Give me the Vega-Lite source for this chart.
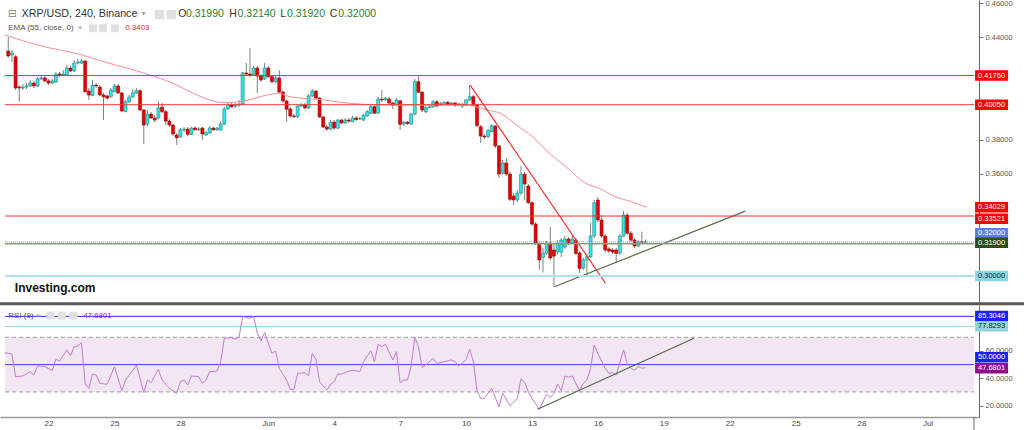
{
"$schema": "https://vega.github.io/schema/vega-lite/v6.json",
"background": "white",
"width": 1024,
"height": 430,
"autosize": {"type": "none"},
"padding": 0,
"config": {"view": {"stroke": null}, "font": "Liberation Sans", "axis": {"labelFont": "Liberation Sans", "grid": false, "zindex": 0}},
"datasets": {
"candles": [
{"t":"2018-05-20T04:00Z","o":0.4320,"h":0.4402,"l":0.4279,"c":0.4291},
{"t":"2018-05-20T08:00Z","o":0.4296,"h":0.4326,"l":0.4255,"c":0.4308},
{"t":"2018-05-20T12:00Z","o":0.4286,"h":0.4296,"l":0.4091,"c":0.4103},
{"t":"2018-05-20T16:00Z","o":0.4109,"h":0.4120,"l":0.4022,"c":0.4103},
{"t":"2018-05-20T20:00Z","o":0.4103,"h":0.4126,"l":0.4091,"c":0.4109},
{"t":"2018-05-21T00:00Z","o":0.4109,"h":0.4132,"l":0.4097,"c":0.4115},
{"t":"2018-05-21T04:00Z","o":0.4115,"h":0.4150,"l":0.4109,"c":0.4132},
{"t":"2018-05-21T08:00Z","o":0.4132,"h":0.4144,"l":0.4103,"c":0.4115},
{"t":"2018-05-21T12:00Z","o":0.4115,"h":0.4167,"l":0.4109,"c":0.4156},
{"t":"2018-05-21T16:00Z","o":0.4156,"h":0.4179,"l":0.4150,"c":0.4162},
{"t":"2018-05-21T20:00Z","o":0.4162,"h":0.4173,"l":0.4138,"c":0.4144},
{"t":"2018-05-22T00:00Z","o":0.4144,"h":0.4156,"l":0.4120,"c":0.4132},
{"t":"2018-05-22T04:00Z","o":0.4132,"h":0.4156,"l":0.4126,"c":0.4144},
{"t":"2018-05-22T08:00Z","o":0.4138,"h":0.4197,"l":0.4132,"c":0.4185},
{"t":"2018-05-22T12:00Z","o":0.4185,"h":0.4197,"l":0.4167,"c":0.4179},
{"t":"2018-05-22T16:00Z","o":0.4179,"h":0.4208,"l":0.4173,"c":0.4185},
{"t":"2018-05-22T20:00Z","o":0.4179,"h":0.4238,"l":0.4173,"c":0.4220},
{"t":"2018-05-23T00:00Z","o":0.4220,"h":0.4232,"l":0.4197,"c":0.4203},
{"t":"2018-05-23T04:00Z","o":0.4203,"h":0.4267,"l":0.4197,"c":0.4249},
{"t":"2018-05-23T08:00Z","o":0.4249,"h":0.4273,"l":0.4244,"c":0.4255},
{"t":"2018-05-23T12:00Z","o":0.4249,"h":0.4273,"l":0.4244,"c":0.4261},
{"t":"2018-05-23T16:00Z","o":0.4261,"h":0.4267,"l":0.4079,"c":0.4081},
{"t":"2018-05-23T20:00Z","o":0.4085,"h":0.4103,"l":0.4033,"c":0.4062},
{"t":"2018-05-24T00:00Z","o":0.4058,"h":0.4150,"l":0.4056,"c":0.4120},
{"t":"2018-05-24T04:00Z","o":0.4120,"h":0.4132,"l":0.4103,"c":0.4115},
{"t":"2018-05-24T08:00Z","o":0.4109,"h":0.4120,"l":0.4056,"c":0.4062},
{"t":"2018-05-24T12:00Z","o":0.4062,"h":0.4074,"l":0.3915,"c":0.4052},
{"t":"2018-05-24T16:00Z","o":0.4056,"h":0.4062,"l":0.4033,"c":0.4044},
{"t":"2018-05-24T20:00Z","o":0.4052,"h":0.4103,"l":0.4044,"c":0.4091},
{"t":"2018-05-25T00:00Z","o":0.4081,"h":0.4126,"l":0.4079,"c":0.4115},
{"t":"2018-05-25T04:00Z","o":0.4115,"h":0.4126,"l":0.4068,"c":0.4074},
{"t":"2018-05-25T08:00Z","o":0.4074,"h":0.4079,"l":0.3962,"c":0.3968},
{"t":"2018-05-25T12:00Z","o":0.3964,"h":0.4033,"l":0.3962,"c":0.4022},
{"t":"2018-05-25T16:00Z","o":0.4022,"h":0.4062,"l":0.4015,"c":0.4050},
{"t":"2018-05-25T20:00Z","o":0.4050,"h":0.4097,"l":0.4044,"c":0.4074},
{"t":"2018-05-26T00:00Z","o":0.4074,"h":0.4103,"l":0.4068,"c":0.4087},
{"t":"2018-05-26T04:00Z","o":0.4087,"h":0.4097,"l":0.3968,"c":0.3974},
{"t":"2018-05-26T08:00Z","o":0.3974,"h":0.3980,"l":0.3774,"c":0.3886},
{"t":"2018-05-26T12:00Z","o":0.3892,"h":0.3974,"l":0.3880,"c":0.3950},
{"t":"2018-05-26T16:00Z","o":0.3950,"h":0.3962,"l":0.3921,"c":0.3927},
{"t":"2018-05-26T20:00Z","o":0.3927,"h":0.3944,"l":0.3903,"c":0.3915},
{"t":"2018-05-27T00:00Z","o":0.3927,"h":0.4027,"l":0.3921,"c":0.3986},
{"t":"2018-05-27T04:00Z","o":0.3991,"h":0.4015,"l":0.3956,"c":0.3964},
{"t":"2018-05-27T08:00Z","o":0.3964,"h":0.3974,"l":0.3886,"c":0.3909},
{"t":"2018-05-27T12:00Z","o":0.3909,"h":0.3921,"l":0.3874,"c":0.3886},
{"t":"2018-05-27T16:00Z","o":0.3886,"h":0.3892,"l":0.3821,"c":0.3833},
{"t":"2018-05-27T20:00Z","o":0.3827,"h":0.3839,"l":0.3769,"c":0.3811},
{"t":"2018-05-28T00:00Z","o":0.3817,"h":0.3868,"l":0.3810,"c":0.3857},
{"t":"2018-05-28T04:00Z","o":0.3857,"h":0.3874,"l":0.3845,"c":0.3862},
{"t":"2018-05-28T08:00Z","o":0.3862,"h":0.3874,"l":0.3821,"c":0.3831},
{"t":"2018-05-28T12:00Z","o":0.3831,"h":0.3874,"l":0.3827,"c":0.3868},
{"t":"2018-05-28T16:00Z","o":0.3868,"h":0.3880,"l":0.3851,"c":0.3858},
{"t":"2018-05-28T20:00Z","o":0.3858,"h":0.3874,"l":0.3851,"c":0.3862},
{"t":"2018-05-29T00:00Z","o":0.3868,"h":0.3874,"l":0.3798,"c":0.3833},
{"t":"2018-05-29T04:00Z","o":0.3827,"h":0.3851,"l":0.3821,"c":0.3841},
{"t":"2018-05-29T08:00Z","o":0.3839,"h":0.3880,"l":0.3833,"c":0.3868},
{"t":"2018-05-29T12:00Z","o":0.3868,"h":0.3874,"l":0.3851,"c":0.3858},
{"t":"2018-05-29T16:00Z","o":0.3858,"h":0.3874,"l":0.3851,"c":0.3867},
{"t":"2018-05-29T20:00Z","o":0.3857,"h":0.3909,"l":0.3851,"c":0.3892},
{"t":"2018-05-30T00:00Z","o":0.3892,"h":0.3991,"l":0.3886,"c":0.3980},
{"t":"2018-05-30T04:00Z","o":0.3980,"h":0.4015,"l":0.3974,"c":0.4003},
{"t":"2018-05-30T08:00Z","o":0.4003,"h":0.4015,"l":0.3986,"c":0.3993},
{"t":"2018-05-30T12:00Z","o":0.3997,"h":0.4015,"l":0.3986,"c":0.4000},
{"t":"2018-05-30T16:00Z","o":0.4003,"h":0.4033,"l":0.3991,"c":0.4009},
{"t":"2018-05-30T20:00Z","o":0.4009,"h":0.4197,"l":0.4003,"c":0.4191},
{"t":"2018-05-31T00:00Z","o":0.4191,"h":0.4249,"l":0.4173,"c":0.4185},
{"t":"2018-05-31T04:00Z","o":0.4185,"h":0.4337,"l":0.4167,"c":0.4179},
{"t":"2018-05-31T08:00Z","o":0.4179,"h":0.4232,"l":0.4173,"c":0.4220},
{"t":"2018-05-31T12:00Z","o":0.4220,"h":0.4232,"l":0.4074,"c":0.4173},
{"t":"2018-05-31T16:00Z","o":0.4173,"h":0.4185,"l":0.4138,"c":0.4150},
{"t":"2018-05-31T20:00Z","o":0.4156,"h":0.4249,"l":0.4150,"c":0.4220},
{"t":"2018-06-01T00:00Z","o":0.4220,"h":0.4232,"l":0.4162,"c":0.4169},
{"t":"2018-06-01T04:00Z","o":0.4169,"h":0.4179,"l":0.4132,"c":0.4140},
{"t":"2018-06-01T08:00Z","o":0.4140,"h":0.4173,"l":0.4132,"c":0.4162},
{"t":"2018-06-01T12:00Z","o":0.4162,"h":0.4208,"l":0.4074,"c":0.4079},
{"t":"2018-06-01T16:00Z","o":0.4079,"h":0.4091,"l":0.4015,"c":0.4027},
{"t":"2018-06-01T20:00Z","o":0.4027,"h":0.4033,"l":0.3905,"c":0.3978},
{"t":"2018-06-02T00:00Z","o":0.3980,"h":0.3991,"l":0.3927,"c":0.3939},
{"t":"2018-06-02T04:00Z","o":0.3939,"h":0.3950,"l":0.3927,"c":0.3935},
{"t":"2018-06-02T08:00Z","o":0.3935,"h":0.4003,"l":0.3927,"c":0.3997},
{"t":"2018-06-02T12:00Z","o":0.3997,"h":0.4015,"l":0.3991,"c":0.4003},
{"t":"2018-06-02T16:00Z","o":0.4003,"h":0.4015,"l":0.3980,"c":0.3986},
{"t":"2018-06-02T20:00Z","o":0.3986,"h":0.4068,"l":0.3980,"c":0.4056},
{"t":"2018-06-03T00:00Z","o":0.4056,"h":0.4097,"l":0.4050,"c":0.4085},
{"t":"2018-06-03T04:00Z","o":0.4085,"h":0.4091,"l":0.4038,"c":0.4044},
{"t":"2018-06-03T08:00Z","o":0.4044,"h":0.4050,"l":0.3927,"c":0.3933},
{"t":"2018-06-03T12:00Z","o":0.3933,"h":0.3939,"l":0.3868,"c":0.3874},
{"t":"2018-06-03T16:00Z","o":0.3874,"h":0.3886,"l":0.3851,"c":0.3862},
{"t":"2018-06-03T20:00Z","o":0.3862,"h":0.3915,"l":0.3857,"c":0.3903},
{"t":"2018-06-04T00:00Z","o":0.3903,"h":0.3915,"l":0.3857,"c":0.3868},
{"t":"2018-06-04T04:00Z","o":0.3868,"h":0.3921,"l":0.3862,"c":0.3915},
{"t":"2018-06-04T08:00Z","o":0.3915,"h":0.3921,"l":0.3892,"c":0.3898},
{"t":"2018-06-04T12:00Z","o":0.3898,"h":0.3927,"l":0.3892,"c":0.3915},
{"t":"2018-06-04T16:00Z","o":0.3915,"h":0.3927,"l":0.3898,"c":0.3909},
{"t":"2018-06-04T20:00Z","o":0.3905,"h":0.3939,"l":0.3903,"c":0.3927},
{"t":"2018-06-05T00:00Z","o":0.3927,"h":0.3939,"l":0.3909,"c":0.3918},
{"t":"2018-06-05T04:00Z","o":0.3921,"h":0.3933,"l":0.3915,"c":0.3924},
{"t":"2018-06-05T08:00Z","o":0.3915,"h":0.3950,"l":0.3909,"c":0.3944},
{"t":"2018-06-05T12:00Z","o":0.3939,"h":0.3974,"l":0.3933,"c":0.3964},
{"t":"2018-06-05T16:00Z","o":0.3955,"h":0.4003,"l":0.3950,"c":0.3993},
{"t":"2018-06-05T20:00Z","o":0.3993,"h":0.4003,"l":0.3950,"c":0.3955},
{"t":"2018-06-06T00:00Z","o":0.3955,"h":0.4050,"l":0.3950,"c":0.4038},
{"t":"2018-06-06T04:00Z","o":0.4038,"h":0.4091,"l":0.4021,"c":0.4033},
{"t":"2018-06-06T08:00Z","o":0.4033,"h":0.4050,"l":0.4027,"c":0.4043},
{"t":"2018-06-06T12:00Z","o":0.4038,"h":0.4050,"l":0.4009,"c":0.4015},
{"t":"2018-06-06T16:00Z","o":0.4015,"h":0.4021,"l":0.3980,"c":0.4003},
{"t":"2018-06-06T20:00Z","o":0.4003,"h":0.4044,"l":0.3997,"c":0.4033},
{"t":"2018-06-07T00:00Z","o":0.4028,"h":0.4033,"l":0.3857,"c":0.3890},
{"t":"2018-06-07T04:00Z","o":0.3892,"h":0.3909,"l":0.3880,"c":0.3903},
{"t":"2018-06-07T08:00Z","o":0.3903,"h":0.3909,"l":0.3886,"c":0.3895},
{"t":"2018-06-07T12:00Z","o":0.3892,"h":0.3956,"l":0.3886,"c":0.3950},
{"t":"2018-06-07T16:00Z","o":0.3950,"h":0.4156,"l":0.3944,"c":0.4140},
{"t":"2018-06-07T20:00Z","o":0.4140,"h":0.4173,"l":0.4074,"c":0.4078},
{"t":"2018-06-08T00:00Z","o":0.4078,"h":0.4085,"l":0.3962,"c":0.3974},
{"t":"2018-06-08T04:00Z","o":0.3964,"h":0.3997,"l":0.3956,"c":0.3987},
{"t":"2018-06-08T08:00Z","o":0.3987,"h":0.4009,"l":0.3986,"c":0.3993},
{"t":"2018-06-08T12:00Z","o":0.3993,"h":0.4033,"l":0.3986,"c":0.4022},
{"t":"2018-06-08T16:00Z","o":0.4022,"h":0.4033,"l":0.3991,"c":0.3997},
{"t":"2018-06-08T20:00Z","o":0.4003,"h":0.4021,"l":0.3997,"c":0.4013},
{"t":"2018-06-09T00:00Z","o":0.4013,"h":0.4027,"l":0.4009,"c":0.4017},
{"t":"2018-06-09T04:00Z","o":0.4019,"h":0.4027,"l":0.4003,"c":0.4009},
{"t":"2018-06-09T08:00Z","o":0.4009,"h":0.4021,"l":0.4003,"c":0.4015},
{"t":"2018-06-09T12:00Z","o":0.4015,"h":0.4021,"l":0.3991,"c":0.4003},
{"t":"2018-06-09T16:00Z","o":0.4003,"h":0.4015,"l":0.3997,"c":0.4009},
{"t":"2018-06-09T20:00Z","o":0.3997,"h":0.4015,"l":0.3986,"c":0.4007},
{"t":"2018-06-10T00:00Z","o":0.4003,"h":0.4038,"l":0.3997,"c":0.4033},
{"t":"2018-06-10T04:00Z","o":0.4033,"h":0.4120,"l":0.4027,"c":0.4052},
{"t":"2018-06-10T08:00Z","o":0.4052,"h":0.4062,"l":0.3997,"c":0.4003},
{"t":"2018-06-10T12:00Z","o":0.4003,"h":0.4009,"l":0.3874,"c":0.3882},
{"t":"2018-06-10T16:00Z","o":0.3876,"h":0.3886,"l":0.3780,"c":0.3821},
{"t":"2018-06-10T20:00Z","o":0.3821,"h":0.3833,"l":0.3804,"c":0.3816},
{"t":"2018-06-11T00:00Z","o":0.3817,"h":0.3862,"l":0.3810,"c":0.3853},
{"t":"2018-06-11T04:00Z","o":0.3847,"h":0.3892,"l":0.3845,"c":0.3882},
{"t":"2018-06-11T08:00Z","o":0.3880,"h":0.3886,"l":0.3751,"c":0.3763},
{"t":"2018-06-11T12:00Z","o":0.3763,"h":0.3769,"l":0.3575,"c":0.3598},
{"t":"2018-06-11T16:00Z","o":0.3604,"h":0.3681,"l":0.3593,"c":0.3663},
{"t":"2018-06-11T20:00Z","o":0.3663,"h":0.3692,"l":0.3587,"c":0.3598},
{"t":"2018-06-12T00:00Z","o":0.3598,"h":0.3610,"l":0.3440,"c":0.3450},
{"t":"2018-06-12T04:00Z","o":0.3469,"h":0.3487,"l":0.3417,"c":0.3446},
{"t":"2018-06-12T08:00Z","o":0.3446,"h":0.3505,"l":0.3434,"c":0.3487},
{"t":"2018-06-12T12:00Z","o":0.3487,"h":0.3645,"l":0.3475,"c":0.3598},
{"t":"2018-06-12T16:00Z","o":0.3598,"h":0.3610,"l":0.3446,"c":0.3540},
{"t":"2018-06-12T20:00Z","o":0.3528,"h":0.3540,"l":0.3423,"c":0.3430},
{"t":"2018-06-13T00:00Z","o":0.3430,"h":0.3440,"l":0.3294,"c":0.3305},
{"t":"2018-06-13T04:00Z","o":0.3305,"h":0.3317,"l":0.3182,"c":0.3192},
{"t":"2018-06-13T08:00Z","o":0.3192,"h":0.3206,"l":0.3036,"c":0.3094},
{"t":"2018-06-13T12:00Z","o":0.3110,"h":0.3164,"l":0.3020,"c":0.3135},
{"t":"2018-06-13T16:00Z","o":0.3135,"h":0.3206,"l":0.3123,"c":0.3194},
{"t":"2018-06-13T20:00Z","o":0.3194,"h":0.3289,"l":0.3094,"c":0.3106},
{"t":"2018-06-14T00:00Z","o":0.3153,"h":0.3194,"l":0.2937,"c":0.3117},
{"t":"2018-06-14T04:00Z","o":0.3141,"h":0.3211,"l":0.3129,"c":0.3194},
{"t":"2018-06-14T08:00Z","o":0.3141,"h":0.3223,"l":0.3112,"c":0.3211},
{"t":"2018-06-14T12:00Z","o":0.3170,"h":0.3235,"l":0.3159,"c":0.3217},
{"t":"2018-06-14T16:00Z","o":0.3217,"h":0.3229,"l":0.3182,"c":0.3194},
{"t":"2018-06-14T20:00Z","o":0.3194,"h":0.3235,"l":0.3188,"c":0.3217},
{"t":"2018-06-15T00:00Z","o":0.3211,"h":0.3223,"l":0.3123,"c":0.3133},
{"t":"2018-06-15T04:00Z","o":0.3135,"h":0.3147,"l":0.3018,"c":0.3045},
{"t":"2018-06-15T08:00Z","o":0.3047,"h":0.3106,"l":0.3036,"c":0.3094},
{"t":"2018-06-15T12:00Z","o":0.3094,"h":0.3129,"l":0.2996,"c":0.3113},
{"t":"2018-06-15T16:00Z","o":0.3113,"h":0.3311,"l":0.3106,"c":0.3235},
{"t":"2018-06-15T20:00Z","o":0.3235,"h":0.3446,"l":0.3223,"c":0.3430},
{"t":"2018-06-16T00:00Z","o":0.3446,"h":0.3465,"l":0.3317,"c":0.3329},
{"t":"2018-06-16T04:00Z","o":0.3329,"h":0.3358,"l":0.3223,"c":0.3235},
{"t":"2018-06-16T08:00Z","o":0.3235,"h":0.3247,"l":0.3141,"c":0.3153},
{"t":"2018-06-16T12:00Z","o":0.3159,"h":0.3170,"l":0.3135,"c":0.3147},
{"t":"2018-06-16T16:00Z","o":0.3153,"h":0.3164,"l":0.3129,"c":0.3141},
{"t":"2018-06-16T20:00Z","o":0.3153,"h":0.3164,"l":0.3078,"c":0.3133},
{"t":"2018-06-17T00:00Z","o":0.3135,"h":0.3247,"l":0.3123,"c":0.3235},
{"t":"2018-06-17T04:00Z","o":0.3235,"h":0.3381,"l":0.3229,"c":0.3358},
{"t":"2018-06-17T08:00Z","o":0.3358,"h":0.3370,"l":0.3241,"c":0.3251},
{"t":"2018-06-17T12:00Z","o":0.3251,"h":0.3264,"l":0.3200,"c":0.3211},
{"t":"2018-06-17T16:00Z","o":0.3211,"h":0.3223,"l":0.3164,"c":0.3176},
{"t":"2018-06-17T20:00Z","o":0.3176,"h":0.3211,"l":0.3170,"c":0.3201},
{"t":"2018-06-18T00:00Z","o":0.3201,"h":0.3260,"l":0.3194,"c":0.3199},
{"t":"2018-06-18T04:00Z","o":0.3199,"h":0.3214,"l":0.3192,"c":0.3200}
],
"ema": [
{"t":"2018-05-20T00:00Z","v":0.4414},{"t":"2018-05-21T12:00Z","v":0.4355},{"t":"2018-05-23T13:00Z","v":0.4296},
{"t":"2018-05-24T12:30Z","v":0.4257},{"t":"2018-05-26T08:00Z","v":0.4191},{"t":"2018-05-27T16:00Z","v":0.4130},
{"t":"2018-05-28T22:30Z","v":0.4052},{"t":"2018-05-29T22:00Z","v":0.4017},{"t":"2018-05-30T21:40Z","v":0.4027},
{"t":"2018-05-31T23:00Z","v":0.4062},{"t":"2018-06-01T12:00Z","v":0.4072},{"t":"2018-06-01T20:30Z","v":0.4056},
{"t":"2018-06-02T10:36Z","v":0.4044},{"t":"2018-06-03T12:36Z","v":0.4033},{"t":"2018-06-04T02:36Z","v":0.4022},
{"t":"2018-06-05T08:54Z","v":0.4007},{"t":"2018-06-06T21:36Z","v":0.4003},{"t":"2018-06-08T09:18Z","v":0.4003},
{"t":"2018-06-09T21:00Z","v":0.4003},{"t":"2018-06-10T07:48Z","v":0.3997},{"t":"2018-06-10T22:54Z","v":0.3974},
{"t":"2018-06-11T13:00Z","v":0.3956},{"t":"2018-06-12T07:00Z","v":0.3886},{"t":"2018-06-13T00:36Z","v":0.3817},
{"t":"2018-06-13T19:00Z","v":0.3720},{"t":"2018-06-14T13:06Z","v":0.3641},{"t":"2018-06-15T10:42Z","v":0.3544},
{"t":"2018-06-16T01:06Z","v":0.3515},{"t":"2018-06-16T19:06Z","v":0.3465},{"t":"2018-06-17T12:48Z","v":0.3436},
{"t":"2018-06-18T05:18Z","v":0.3403}
],
"rsi": [
{"t":"2018-05-20T00:00Z","v":58.7},{"t":"2018-05-20T08:00Z","v":57.8},{"t":"2018-05-20T12:00Z","v":41.2},{"t":"2018-05-20T20:00Z","v":41.7},
{"t":"2018-05-21T04:00Z","v":44.8},{"t":"2018-05-21T08:00Z","v":42.4},{"t":"2018-05-21T12:00Z","v":49.0},{"t":"2018-05-21T20:00Z","v":48.5},
{"t":"2018-05-22T04:00Z","v":45.6},{"t":"2018-05-22T08:00Z","v":53.9},{"t":"2018-05-22T12:00Z","v":52.6},{"t":"2018-05-22T20:00Z","v":60.7},
{"t":"2018-05-23T00:00Z","v":56.5},{"t":"2018-05-23T04:00Z","v":63.1},{"t":"2018-05-23T08:00Z","v":63.6},{"t":"2018-05-23T12:00Z","v":66.0},
{"t":"2018-05-23T16:00Z","v":35.8},{"t":"2018-05-23T20:00Z","v":32.6},{"t":"2018-05-24T00:00Z","v":43.1},{"t":"2018-05-24T04:00Z","v":42.4},
{"t":"2018-05-24T08:00Z","v":36.3},{"t":"2018-05-24T16:00Z","v":35.6},{"t":"2018-05-25T00:00Z","v":48.5},{"t":"2018-05-25T08:00Z","v":30.9},
{"t":"2018-05-25T12:00Z","v":38.7},{"t":"2018-05-26T00:00Z","v":49.7},{"t":"2018-05-26T08:00Z","v":29.5},{"t":"2018-05-26T12:00Z","v":38.7},
{"t":"2018-05-26T16:00Z","v":36.8},{"t":"2018-05-27T00:00Z","v":46.5},{"t":"2018-05-27T04:00Z","v":38.7},{"t":"2018-05-27T12:00Z","v":32.6},
{"t":"2018-05-27T20:00Z","v":29.0},{"t":"2018-05-28T00:00Z","v":37.5},{"t":"2018-05-28T04:00Z","v":38.7},{"t":"2018-05-28T08:00Z","v":35.1},
{"t":"2018-05-28T12:00Z","v":41.7},{"t":"2018-05-28T20:00Z","v":41.2},{"t":"2018-05-29T00:00Z","v":36.3},{"t":"2018-05-29T04:00Z","v":38.7},
{"t":"2018-05-29T08:00Z","v":44.8},{"t":"2018-05-29T16:00Z","v":45.3},{"t":"2018-05-29T20:00Z","v":52.1},{"t":"2018-05-30T00:00Z","v":69.2},
{"t":"2018-05-30T08:00Z","v":69.7},{"t":"2018-05-30T12:00Z","v":68.7},{"t":"2018-05-30T16:00Z","v":70.0},{"t":"2018-05-30T20:00Z","v":85.1},
{"t":"2018-05-31T04:00Z","v":83.9},{"t":"2018-05-31T08:00Z","v":85.1},{"t":"2018-05-31T12:00Z","v":72.9},{"t":"2018-05-31T16:00Z","v":67.3},
{"t":"2018-05-31T20:00Z","v":73.4},{"t":"2018-06-01T04:00Z","v":58.2},{"t":"2018-06-01T08:00Z","v":60.0},{"t":"2018-06-01T12:00Z","v":47.3},
{"t":"2018-06-01T20:00Z","v":38.7},{"t":"2018-06-02T00:00Z","v":31.9},{"t":"2018-06-02T04:00Z","v":31.9},{"t":"2018-06-02T08:00Z","v":43.6},
{"t":"2018-06-02T16:00Z","v":44.1},{"t":"2018-06-02T20:00Z","v":41.7},{"t":"2018-06-03T00:00Z","v":58.2},{"t":"2018-06-03T04:00Z","v":53.9},
{"t":"2018-06-03T08:00Z","v":37.5},{"t":"2018-06-03T16:00Z","v":31.4},{"t":"2018-06-03T20:00Z","v":35.6},{"t":"2018-06-04T00:00Z","v":37.5},
{"t":"2018-06-04T04:00Z","v":43.1},{"t":"2018-06-04T08:00Z","v":43.1},{"t":"2018-06-04T12:00Z","v":44.1},{"t":"2018-06-04T20:00Z","v":46.0},
{"t":"2018-06-05T04:00Z","v":44.8},{"t":"2018-06-05T08:00Z","v":52.1},{"t":"2018-06-05T16:00Z","v":60.2},{"t":"2018-06-05T20:00Z","v":52.1},
{"t":"2018-06-06T00:00Z","v":64.8},{"t":"2018-06-06T04:00Z","v":63.1},{"t":"2018-06-06T08:00Z","v":64.8},{"t":"2018-06-06T16:00Z","v":53.4},
{"t":"2018-06-06T20:00Z","v":59.5},{"t":"2018-06-07T00:00Z","v":36.8},{"t":"2018-06-07T04:00Z","v":38.7},{"t":"2018-06-07T08:00Z","v":38.7},
{"t":"2018-06-07T12:00Z","v":48.5},{"t":"2018-06-07T16:00Z","v":70.0},{"t":"2018-06-07T20:00Z","v":63.1},{"t":"2018-06-08T00:00Z","v":48.0},
{"t":"2018-06-08T04:00Z","v":49.7},{"t":"2018-06-08T12:00Z","v":54.6},{"t":"2018-06-08T16:00Z","v":50.9},{"t":"2018-06-09T00:00Z","v":52.1},
{"t":"2018-06-09T08:00Z","v":53.4},{"t":"2018-06-09T12:00Z","v":52.1},{"t":"2018-06-09T16:00Z","v":49.0},{"t":"2018-06-10T00:00Z","v":53.4},
{"t":"2018-06-10T04:00Z","v":61.2},{"t":"2018-06-10T08:00Z","v":52.1},{"t":"2018-06-10T12:00Z","v":30.9},{"t":"2018-06-10T16:00Z","v":25.3},
{"t":"2018-06-10T20:00Z","v":25.3},{"t":"2018-06-11T04:00Z","v":32.6},{"t":"2018-06-11T12:00Z","v":19.2},{"t":"2018-06-11T16:00Z","v":29.0},
{"t":"2018-06-12T00:00Z","v":20.0},{"t":"2018-06-12T08:00Z","v":25.3},{"t":"2018-06-12T12:00Z","v":39.6},{"t":"2018-06-12T16:00Z","v":37.1},
{"t":"2018-06-12T20:00Z","v":30.2},{"t":"2018-06-13T00:00Z","v":25.3},{"t":"2018-06-13T08:00Z","v":17.3},{"t":"2018-06-13T12:00Z","v":22.9},
{"t":"2018-06-13T16:00Z","v":28.5},{"t":"2018-06-13T20:00Z","v":25.8},{"t":"2018-06-14T00:00Z","v":29.0},{"t":"2018-06-14T04:00Z","v":35.8},
{"t":"2018-06-14T08:00Z","v":30.9},{"t":"2018-06-14T12:00Z","v":41.7},{"t":"2018-06-14T16:00Z","v":40.7},{"t":"2018-06-14T20:00Z","v":41.7},
{"t":"2018-06-15T04:00Z","v":30.9},{"t":"2018-06-15T08:00Z","v":36.3},{"t":"2018-06-15T12:00Z","v":38.7},{"t":"2018-06-15T16:00Z","v":47.3},
{"t":"2018-06-15T20:00Z","v":64.3},{"t":"2018-06-16T00:00Z","v":58.2},{"t":"2018-06-16T08:00Z","v":47.3},{"t":"2018-06-16T12:00Z","v":43.6},
{"t":"2018-06-16T16:00Z","v":44.1},{"t":"2018-06-16T20:00Z","v":42.4},{"t":"2018-06-17T04:00Z","v":60.7},{"t":"2018-06-17T08:00Z","v":50.9},
{"t":"2018-06-17T12:00Z","v":47.3},{"t":"2018-06-17T16:00Z","v":46.0},{"t":"2018-06-17T20:00Z","v":48.5},{"t":"2018-06-18T00:00Z","v":47.3},
{"t":"2018-06-18T04:00Z","v":47.68}
],
"redtrend": [{"t":"2018-06-10T04:30Z","v":0.4120},{"t":"2018-06-16T08:18Z","v":0.2958}],
"greentrend": [{"t":"2018-06-14T00:24Z","v":0.2937},{"t":"2018-06-22T17:00Z","v":0.3381}],
"rsitrend": [{"t":"2018-06-13T06:00Z","v":17.3},{"t":"2018-06-20T09:00Z","v":69.2}],
"ptags": [
{"lab":"0.41760","v":0.4176,"k":"r"},{"lab":"0.40050","v":0.4005,"k":"r"},{"lab":"0.34029","v":0.3403,"k":"r"},
{"lab":"0.33521","v":0.3336,"k":"r"},{"lab":"0.32000","v":0.3251,"k":"mb"},{"lab":"0.31900","v":0.3195,"k":"g"},
{"lab":"0.30000","v":0.3000,"k":"lb"}
],
"rtags": [
{"lab":"85.3046","v":85.6,"k":"b"},{"lab":"77.8293","v":78.0,"k":"lb"},{"lab":"50.0000","v":55.4,"k":"b"},{"lab":"47.6801","v":47.4,"k":"p"}
]
},
"data": {"values": [{}]},
"resolve": {"scale": {"y": "independent"}, "axis": {"y": "independent"}},
"layer": [
{
"layer": [
{"data": {"name": "candles"}, "mark": {"type": "rule", "color": "#74857a", "strokeWidth": 1},
 "encoding": {
  "x": {"field": "t", "type": "temporal", "title": null,
        "scale": {"domain": [{"year":2018,"month":5,"date":20,"hours":0,"minutes":26,"utc":true},{"year":2018,"month":7,"date":3,"hours":2,"minutes":48,"utc":true}], "range": [0, 979]}},
  "y": {"field": "l", "type": "quantitative", "title": null,
        "scale": {"domain": [0.2842, 0.4619], "range": [303, 0], "nice": false, "zero": false},
        "axis": {"orient": "right", "offset": -45, "values": [0.36,0.38,0.44,0.46], "format": ".5f", "title": null, "labelFontSize": 7.5, "labelColor": "#555", "tickColor": "#777", "tickSize": 4, "domainColor": "#666", "labelPadding": 2, "grid": false}},
  "y2": {"field": "h"}
 }},
{"data": {"name": "candles"}, "mark": {"type": "bar", "size": 3, "strokeWidth": 0.6},
 "encoding": {
  "x": {"field": "t", "type": "temporal", "title": null},
  "y": {"field": "o", "type": "quantitative", "title": null},
  "y2": {"field": "c"},
  "fill": {"condition": {"test": "datum.c < datum.o", "value": "#e50000"}, "value": "#2ee6e6"},
  "stroke": {"condition": {"test": "datum.c < datum.o", "value": "#a00000"}, "value": "#2a8080"}
 }},
{"data": {"name": "ema"}, "mark": {"type": "line", "color": "#f29090", "strokeWidth": 1, "interpolate": "monotone", "clip": true},
 "encoding": {"x": {"field": "t", "type": "temporal", "title": null}, "y": {"field": "v", "type": "quantitative", "title": null}}},
{"data": {"name": "redtrend"}, "mark": {"type": "line", "color": "#ff2f2f", "strokeWidth": 1.2},
 "encoding": {"x": {"field": "t", "type": "temporal", "title": null}, "y": {"field": "v", "type": "quantitative", "title": null}}},
{"data": {"name": "greentrend"}, "mark": {"type": "line", "color": "#566e45", "strokeWidth": 1.2},
 "encoding": {"x": {"field": "t", "type": "temporal", "title": null}, "y": {"field": "v", "type": "quantitative", "title": null}}},
{"mark": {"type": "rule", "color": "#ee3333", "strokeWidth": 1},
 "encoding": {"y": {"datum": 0.4176}, "x": {"datum": {"year":2018,"month":5,"date":20,"hours":0,"minutes":26,"utc":true}, "type": "temporal"}, "x2": {"datum": {"year":2018,"month":7,"date":3,"hours":2,"minutes":48,"utc":true}}}},
{"mark": {"type": "rule", "color": "#ee3b3b", "strokeWidth": 1},
 "encoding": {"y": {"datum": 0.4005}, "x": {"datum": {"year":2018,"month":5,"date":20,"hours":0,"minutes":26,"utc":true}, "type": "temporal"}, "x2": {"datum": {"year":2018,"month":7,"date":3,"hours":2,"minutes":48,"utc":true}}}},
{"mark": {"type": "rule", "color": "#ee3333", "strokeWidth": 1},
 "encoding": {"y": {"datum": 0.33521}, "x": {"datum": {"year":2018,"month":5,"date":20,"hours":0,"minutes":26,"utc":true}, "type": "temporal"}, "x2": {"datum": {"year":2018,"month":7,"date":3,"hours":2,"minutes":48,"utc":true}}}},
{"mark": {"type": "rule", "color": "#8c9c7a", "strokeWidth": 1.5},
 "encoding": {"y": {"datum": 0.319}, "x": {"datum": {"year":2018,"month":5,"date":20,"hours":0,"minutes":26,"utc":true}, "type": "temporal"}, "x2": {"datum": {"year":2018,"month":7,"date":3,"hours":2,"minutes":48,"utc":true}}}},
{"mark": {"type": "rule", "color": "#7f9cff", "strokeWidth": 1, "strokeDash": [1, 1]},
 "encoding": {"y": {"datum": 0.32}, "x": {"datum": {"year":2018,"month":5,"date":20,"hours":0,"minutes":26,"utc":true}, "type": "temporal"}, "x2": {"datum": {"year":2018,"month":7,"date":3,"hours":2,"minutes":48,"utc":true}}}},
{"mark": {"type": "rule", "color": "#b2e0ea", "strokeWidth": 2},
 "encoding": {"y": {"datum": 0.30}, "x": {"datum": {"year":2018,"month":5,"date":20,"hours":0,"minutes":26,"utc":true}, "type": "temporal"}, "x2": {"datum": {"year":2018,"month":7,"date":3,"hours":2,"minutes":48,"utc":true}}}},
{"mark": {"type": "rule", "color": "#5a5a5a", "strokeWidth": 3}, "encoding": {"y": {"datum": 0.28383}}},
{"data": {"name": "ptags"}, "mark": {"type": "tick", "orient": "horizontal", "size": 33, "thickness": 10.5, "opacity": 1},
 "encoding": {
  "x": {"datum": {"year":2018,"month":7,"date":3,"hours":22,"utc":true}, "type": "temporal"},
  "y": {"field": "v", "type": "quantitative", "title": null},
  "color": {"field": "k", "type": "nominal", "legend": null, "scale": {"domain": ["r","mb","g","lb","b","p"], "range": ["#ff0000","#5b7fe8","#2e4d1a","#8ed4e0","#1f1fff","#8e0f8e"]}}
 }},
{"data": {"name": "ptags"}, "mark": {"type": "text", "fontSize": 7.5, "align": "center", "baseline": "middle"},
 "encoding": {
  "x": {"datum": {"year":2018,"month":7,"date":3,"hours":22,"utc":true}, "type": "temporal"},
  "y": {"field": "v", "type": "quantitative", "title": null},
  "text": {"field": "lab"},
  "color": {"condition": {"test": "datum.k === 'lb'", "value": "#0b2b36"}, "value": "#ffffff"}
 }},
{"mark": {"type": "text", "align": "center", "baseline": "middle", "fontSize": 11, "color": "#888", "font": "DejaVu Sans"},
 "encoding": {"x": {"datum": {"year":2018,"month":5,"date":20,"hours":8,"minutes":30,"utc":true}, "type": "temporal"}, "y": {"datum": 0.4534}, "text": {"value": "⊟"}}},
{"mark": {"type": "text", "align": "left", "baseline": "middle", "fontSize": 10.7, "color": "#333"},
 "encoding": {"x": {"datum": {"year":2018,"month":5,"date":20,"hours":18,"minutes":30,"utc":true}, "type": "temporal"}, "y": {"datum": 0.4534}, "text": {"value": "XRP/USD, 240, Binance"}}},
{"mark": {"type": "text", "align": "left", "baseline": "middle", "fontSize": 8, "color": "#aaa", "font": "DejaVu Sans"},
 "encoding": {"x": {"datum": {"year":2018,"month":5,"date":26,"hours":5,"minutes":36,"utc":true}, "type": "temporal"}, "y": {"datum": 0.4534}, "text": {"value": "▾"}}},
{"mark": {"type": "point", "shape": "square", "filled": true, "size": 85, "color": "#e0e0e0", "opacity": 1},
 "encoding": {"x": {"datum": {"year":2018,"month":5,"date":27,"hours":1,"minutes":6,"utc":true}, "type": "temporal"}, "y": {"datum": 0.4534}}},
{"mark": {"type": "point", "shape": "square", "filled": true, "size": 85, "color": "#e0e0e0", "opacity": 1},
 "encoding": {"x": {"datum": {"year":2018,"month":5,"date":27,"hours":14,"minutes":6,"utc":true}, "type": "temporal"}, "y": {"datum": 0.4534}}},
{"mark": {"type": "text", "align": "left", "baseline": "middle", "fontSize": 10.5, "color": "#333"},
 "encoding": {"x": {"datum": {"year":2018,"month":5,"date":27,"hours":21,"minutes":36,"utc":true}, "type": "temporal"}, "y": {"datum": 0.4534}, "text": {"value": "O"}}},
{"mark": {"type": "text", "align": "left", "baseline": "middle", "fontSize": 10.5, "color": "#2f7d32"},
 "encoding": {"x": {"datum": {"year":2018,"month":5,"date":28,"hours":6,"utc":true}, "type": "temporal"}, "y": {"datum": 0.4534}, "text": {"value": "0.31990"}}},
{"mark": {"type": "text", "align": "left", "baseline": "middle", "fontSize": 10.5, "color": "#333"},
 "encoding": {"x": {"datum": {"year":2018,"month":5,"date":30,"hours":5,"minutes":30,"utc":true}, "type": "temporal"}, "y": {"datum": 0.4534}, "text": {"value": "H"}}},
{"mark": {"type": "text", "align": "left", "baseline": "middle", "fontSize": 10.5, "color": "#2f7d32"},
 "encoding": {"x": {"datum": {"year":2018,"month":5,"date":30,"hours":14,"minutes":30,"utc":true}, "type": "temporal"}, "y": {"datum": 0.4534}, "text": {"value": "0.32140"}}},
{"mark": {"type": "text", "align": "left", "baseline": "middle", "fontSize": 10.5, "color": "#333"},
 "encoding": {"x": {"datum": {"year":2018,"month":6,"date":1,"hours":13,"utc":true}, "type": "temporal"}, "y": {"datum": 0.4534}, "text": {"value": "L"}}},
{"mark": {"type": "text", "align": "left", "baseline": "middle", "fontSize": 10.5, "color": "#2f7d32"},
 "encoding": {"x": {"datum": {"year":2018,"month":6,"date":1,"hours":20,"minutes":30,"utc":true}, "type": "temporal"}, "y": {"datum": 0.4534}, "text": {"value": "0.31920"}}},
{"mark": {"type": "text", "align": "left", "baseline": "middle", "fontSize": 10.5, "color": "#333"},
 "encoding": {"x": {"datum": {"year":2018,"month":6,"date":3,"hours":19,"utc":true}, "type": "temporal"}, "y": {"datum": 0.4534}, "text": {"value": "C"}}},
{"mark": {"type": "text", "align": "left", "baseline": "middle", "fontSize": 10.5, "color": "#2f7d32"},
 "encoding": {"x": {"datum": {"year":2018,"month":6,"date":4,"hours":4,"minutes":24,"utc":true}, "type": "temporal"}, "y": {"datum": 0.4534}, "text": {"value": "0.32000"}}},
{"mark": {"type": "text", "align": "left", "baseline": "middle", "fontSize": 8, "color": "#555"},
 "encoding": {"x": {"datum": {"year":2018,"month":5,"date":20,"hours":4,"utc":true}, "type": "temporal"}, "y": {"datum": 0.4453}, "text": {"value": "EMA (55, close, 0)"}}},
{"mark": {"type": "text", "align": "left", "baseline": "middle", "fontSize": 7, "color": "#aaa", "font": "DejaVu Sans"},
 "encoding": {"x": {"datum": {"year":2018,"month":5,"date":23,"hours":8,"minutes":24,"utc":true}, "type": "temporal"}, "y": {"datum": 0.4453}, "text": {"value": "▾"}}},
{"mark": {"type": "point", "shape": "square", "filled": true, "size": 64, "color": "#e0e0e0", "opacity": 1},
 "encoding": {"x": {"datum": {"year":2018,"month":5,"date":24,"hours":0,"minutes":36,"utc":true}, "type": "temporal"}, "y": {"datum": 0.4453}}},
{"mark": {"type": "point", "shape": "square", "filled": true, "size": 64, "color": "#e0e0e0", "opacity": 1},
 "encoding": {"x": {"datum": {"year":2018,"month":5,"date":24,"hours":11,"minutes":30,"utc":true}, "type": "temporal"}, "y": {"datum": 0.4453}}},
{"mark": {"type": "point", "shape": "square", "filled": true, "size": 64, "color": "#e0e0e0", "opacity": 1},
 "encoding": {"x": {"datum": {"year":2018,"month":5,"date":25,"hours":0,"minutes":24,"utc":true}, "type": "temporal"}, "y": {"datum": 0.4453}}},
{"mark": {"type": "text", "align": "left", "baseline": "middle", "fontSize": 7.8, "color": "#ff1a1a"},
 "encoding": {"x": {"datum": {"year":2018,"month":5,"date":25,"hours":12,"utc":true}, "type": "temporal"}, "y": {"datum": 0.4453}, "text": {"value": "0.3403"}}},
{"mark": {"type": "text", "align": "left", "baseline": "middle", "fontSize": 12, "fontWeight": "bold", "color": "#111"},
 "encoding": {"x": {"datum": {"year":2018,"month":5,"date":20,"hours":11,"minutes":12,"utc":true}, "type": "temporal"}, "y": {"datum": 0.2930}, "text": {"value": "Investing.com"}}}
]
},
{
"layer": [
{"mark": {"type": "rect", "color": "#f2e6f2"},
 "encoding": {"y": {"datum": 70}, "y2": {"datum": 30}, "x": {"datum": {"year":2018,"month":5,"date":20,"hours":0,"minutes":26,"utc":true}, "type": "temporal"}, "x2": {"datum": {"year":2018,"month":7,"date":3,"hours":2,"minutes":48,"utc":true}}}},
{"mark": {"type": "rule", "color": "#9e9e9e", "strokeWidth": 1, "strokeDash": [4, 3]},
 "encoding": {"y": {"datum": 70}, "x": {"datum": {"year":2018,"month":5,"date":20,"hours":0,"minutes":26,"utc":true}, "type": "temporal"}, "x2": {"datum": {"year":2018,"month":7,"date":3,"hours":2,"minutes":48,"utc":true}}}},
{"mark": {"type": "rule", "color": "#9e9e9e", "strokeWidth": 1, "strokeDash": [4, 3]},
 "encoding": {"y": {"datum": 30}, "x": {"datum": {"year":2018,"month":5,"date":20,"hours":0,"minutes":26,"utc":true}, "type": "temporal"}, "x2": {"datum": {"year":2018,"month":7,"date":3,"hours":2,"minutes":48,"utc":true}}}},
{"mark": {"type": "rule", "color": "#2b2bff", "strokeWidth": 1},
 "encoding": {"y": {"datum": 85.3046}, "x": {"datum": {"year":2018,"month":5,"date":20,"hours":0,"minutes":26,"utc":true}, "type": "temporal"}, "x2": {"datum": {"year":2018,"month":7,"date":3,"hours":2,"minutes":48,"utc":true}}}},
{"mark": {"type": "rule", "color": "#8fd6e2", "strokeWidth": 1},
 "encoding": {"y": {"datum": 77.8293}, "x": {"datum": {"year":2018,"month":5,"date":20,"hours":0,"minutes":26,"utc":true}, "type": "temporal"}, "x2": {"datum": {"year":2018,"month":7,"date":3,"hours":2,"minutes":48,"utc":true}}}},
{"mark": {"type": "rule", "color": "#3d3dff", "strokeWidth": 1},
 "encoding": {"y": {"datum": 50}, "x": {"datum": {"year":2018,"month":5,"date":20,"hours":0,"minutes":26,"utc":true}, "type": "temporal"}, "x2": {"datum": {"year":2018,"month":7,"date":3,"hours":2,"minutes":48,"utc":true}}}},
{"data": {"name": "rsi"}, "mark": {"type": "line", "color": "#c47ccf", "strokeWidth": 1, "clip": true},
 "encoding": {
  "x": {"field": "t", "type": "temporal", "title": null,
        "scale": {"domain": [{"year":2018,"month":5,"date":20,"hours":0,"minutes":26,"utc":true},{"year":2018,"month":7,"date":3,"hours":2,"minutes":48,"utc":true}], "range": [0, 979]},
        "axis": {"orient": "bottom", "offset": -13, "title": null, "grid": false, "ticks": false, "domainColor": "#9a9a9a", "domainWidth": 1.5, "labelFontSize": 8, "labelColor": "#444", "labelPadding": 2,
                 "values": [{"year":2018,"month":5,"date":22,"utc":true},{"year":2018,"month":5,"date":25,"utc":true},{"year":2018,"month":5,"date":28,"utc":true},{"year":2018,"month":6,"date":1,"utc":true},{"year":2018,"month":6,"date":4,"utc":true},{"year":2018,"month":6,"date":7,"utc":true},{"year":2018,"month":6,"date":10,"utc":true},{"year":2018,"month":6,"date":13,"utc":true},{"year":2018,"month":6,"date":16,"utc":true},{"year":2018,"month":6,"date":19,"utc":true},{"year":2018,"month":6,"date":22,"utc":true},{"year":2018,"month":6,"date":25,"utc":true},{"year":2018,"month":6,"date":28,"utc":true},{"year":2018,"month":7,"date":1,"utc":true}],
                 "labelExpr": "utcdate(datum.value) == 1 ? utcFormat(datum.value, '%b') : utcFormat(datum.value, '%-d')"}},
  "y": {"field": "v", "type": "quantitative", "title": null,
        "scale": {"domain": [11.67, 93.6], "range": [417, 305], "nice": false, "zero": false},
        "axis": {"orient": "right", "offset": -45, "values": [20, 40, 60], "format": ".4f", "title": null, "labelFontSize": 7.5, "labelColor": "#555", "tickColor": "#777", "tickSize": 4, "domainColor": "#666", "labelPadding": 2, "grid": false}}
 }},
{"data": {"name": "rsitrend"}, "mark": {"type": "line", "color": "#4f6a3f", "strokeWidth": 1.1},
 "encoding": {"x": {"field": "t", "type": "temporal", "title": null}, "y": {"field": "v", "type": "quantitative", "title": null}}},
{"mark": {"type": "rule", "color": "#666", "strokeWidth": 1},
 "encoding": {"x": {"datum": {"year":2018,"month":7,"date":3,"hours":2,"minutes":48,"utc":true}, "type": "temporal"}, "y": {"datum": 11.67}, "y2": {"datum": 2.2}}},
{"data": {"name": "rtags"}, "mark": {"type": "tick", "orient": "horizontal", "size": 33, "thickness": 10.5, "opacity": 1},
 "encoding": {
  "x": {"datum": {"year":2018,"month":7,"date":3,"hours":22,"utc":true}, "type": "temporal"},
  "y": {"field": "v", "type": "quantitative", "title": null},
  "color": {"field": "k", "type": "nominal", "legend": null, "scale": {"domain": ["r","mb","g","lb","b","p"], "range": ["#ff0000","#5b7fe8","#2e4d1a","#8ed4e0","#1f1fff","#8e0f8e"]}}
 }},
{"data": {"name": "rtags"}, "mark": {"type": "text", "fontSize": 7.5, "align": "center", "baseline": "middle"},
 "encoding": {
  "x": {"datum": {"year":2018,"month":7,"date":3,"hours":22,"utc":true}, "type": "temporal"},
  "y": {"field": "v", "type": "quantitative", "title": null},
  "text": {"field": "lab"},
  "color": {"condition": {"test": "datum.k === 'lb'", "value": "#0b2b36"}, "value": "#ffffff"}
 }},
{"mark": {"type": "text", "align": "left", "baseline": "middle", "fontSize": 8, "color": "#555"},
 "encoding": {"x": {"datum": {"year":2018,"month":5,"date":20,"hours":4,"utc":true}, "type": "temporal"}, "y": {"datum": 85.8}, "text": {"value": "RSI (9)"}}},
{"mark": {"type": "text", "align": "left", "baseline": "middle", "fontSize": 7, "color": "#aaa", "font": "DejaVu Sans"},
 "encoding": {"x": {"datum": {"year":2018,"month":5,"date":21,"hours":10,"minutes":42,"utc":true}, "type": "temporal"}, "y": {"datum": 85.8}, "text": {"value": "▾"}}},
{"mark": {"type": "point", "shape": "square", "filled": true, "size": 64, "color": "#e0e0e0", "opacity": 1},
 "encoding": {"x": {"datum": {"year":2018,"month":5,"date":22,"hours":2,"minutes":12,"utc":true}, "type": "temporal"}, "y": {"datum": 85.8}}},
{"mark": {"type": "point", "shape": "square", "filled": true, "size": 64, "color": "#e0e0e0", "opacity": 1},
 "encoding": {"x": {"datum": {"year":2018,"month":5,"date":22,"hours":14,"minutes":24,"utc":true}, "type": "temporal"}, "y": {"datum": 85.8}}},
{"mark": {"type": "point", "shape": "square", "filled": true, "size": 64, "color": "#e0e0e0", "opacity": 1},
 "encoding": {"x": {"datum": {"year":2018,"month":5,"date":23,"hours":3,"utc":true}, "type": "temporal"}, "y": {"datum": 85.8}}},
{"mark": {"type": "text", "align": "left", "baseline": "middle", "fontSize": 7.8, "color": "#9c27b0"},
 "encoding": {"x": {"datum": {"year":2018,"month":5,"date":23,"hours":14,"minutes":12,"utc":true}, "type": "temporal"}, "y": {"datum": 85.8}, "text": {"value": "47.6801"}}}
]
}
]
}
